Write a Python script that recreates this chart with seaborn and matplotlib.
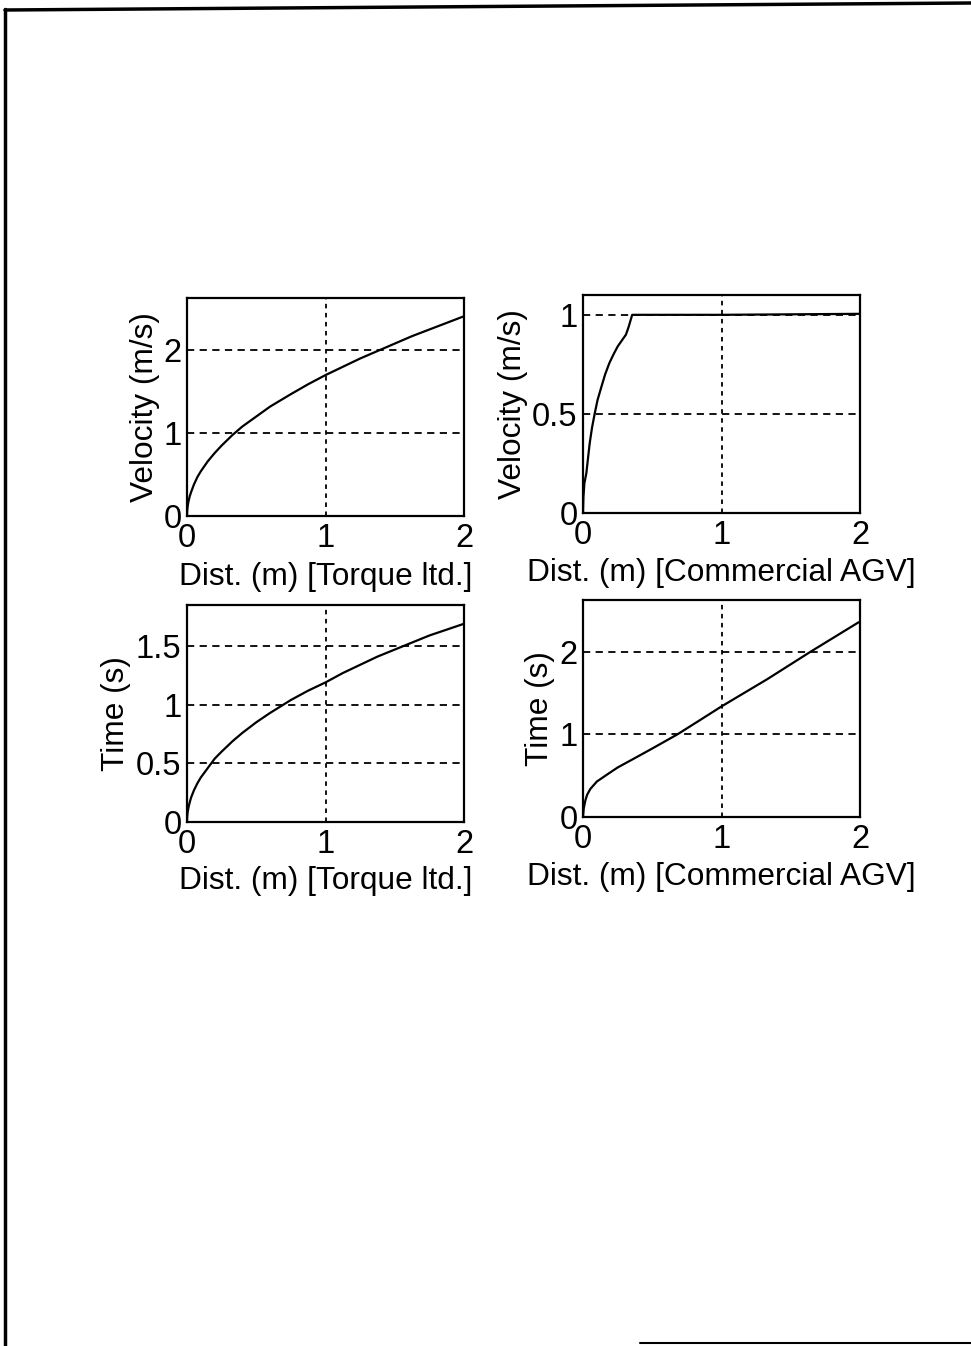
import matplotlib
matplotlib.use("Agg")
import matplotlib.pyplot as plt
from matplotlib.lines import Line2D
import seaborn as sns
import pandas as pd

# ---- data ----
dist_torque = [0, 0.002, 0.005, 0.01, 0.02, 0.03, 0.05, 0.075, 0.1, 0.15, 0.2, 0.25,
               0.33, 0.4, 0.5, 0.6, 0.75, 0.875, 1.0, 1.125, 1.25, 1.375, 1.5, 1.625,
               1.75, 1.875, 2.0]
vel_torque = [0, 0.076, 0.12, 0.17, 0.24, 0.29, 0.38, 0.47, 0.54, 0.66, 0.76, 0.85,
              0.98, 1.08, 1.2, 1.32, 1.47, 1.59, 1.7, 1.8, 1.9, 1.99, 2.08, 2.17,
              2.25, 2.33, 2.41]
time_torque = [0, 0.054, 0.085, 0.12, 0.17, 0.21, 0.27, 0.33, 0.38, 0.46, 0.54, 0.6,
               0.69, 0.76, 0.85, 0.93, 1.04, 1.12, 1.19, 1.27, 1.34, 1.41, 1.47, 1.53,
               1.59, 1.64, 1.69]

dist_agv_v = [0, 0.003, 0.01, 0.024, 0.048, 0.065, 0.084, 0.105, 0.13, 0.16, 0.19,
              0.22, 0.25, 0.28, 0.31, 0.33, 0.355, 1.0, 2.0]
vel_agv = [0, 0.08, 0.15, 0.2, 0.35, 0.43, 0.5, 0.57, 0.63, 0.7, 0.756,
           0.8, 0.84, 0.87, 0.9, 0.94, 1.0, 1.0, 1.005]

dist_agv_t = [0, 0.005, 0.017, 0.03, 0.053, 0.1, 0.17, 0.25, 0.37, 0.5, 0.68, 0.85,
              1.0, 1.33, 1.64, 1.99]
time_agv = [0, 0.1, 0.2, 0.27, 0.34, 0.43, 0.51, 0.6, 0.71, 0.83, 1.0, 1.18,
            1.34, 1.67, 2.0, 2.36]

x_ticks = [0, 1, 2]
x_ticklabels = ["0", "1", "2"]

sns.set_style("white")
plt.rcParams['font.family'] = ['Liberation Sans', 'DejaVu Sans']
plt.rcParams['text.color'] = 'black'
plt.rcParams['axes.labelcolor'] = 'black'

W, H = 971, 1346
fig = plt.figure(figsize=(W / 100, H / 100), dpi=100)
fig.patch.set_facecolor("white")

def rect(x0, x1, y0, y1):
    return [x0 / W, 1 - y1 / H, (x1 - x0) / W, (y1 - y0) / H]

panels = [
    dict(r=rect(187, 464, 298, 516), x=dist_torque, y=vel_torque, ylim=2.63,
         yt=[0, 1, 2], ytl=["0", "1", "2"], ylab="Velocity (m/s)",
         xlab="Dist. (m) [Torque ltd.]", ylc=-0.097, xlc=-0.21),
    dict(r=rect(583, 860, 295, 513), x=dist_agv_v, y=vel_agv, ylim=1.1,
         yt=[0, 0.5, 1], ytl=["0", "0.5", "1"], ylab="Velocity (m/s)",
         xlab="Dist. (m) [Commercial AGV]", ylc=-0.199, xlc=-0.206),
    dict(r=rect(187, 464, 605, 822), x=dist_torque, y=time_torque, ylim=1.85,
         yt=[0, 0.5, 1, 1.5], ytl=["0", "0.5", "1", "1.5"], ylab="Time (s)",
         xlab="Dist. (m) [Torque ltd.]", ylc=-0.202, xlc=-0.203),
    dict(r=rect(583, 860, 600, 817), x=dist_agv_t, y=time_agv, ylim=2.63,
         yt=[0, 1, 2], ytl=["0", "1", "2"], ylab="Time (s)",
         xlab="Dist. (m) [Commercial AGV]", ylc=-0.101, xlc=-0.207),
]

fs_lab = 22.8
fs_tick = 23.5
for p in panels:
    ax = fig.add_axes(p["r"])
    df = pd.DataFrame({"d": p["x"], "v": p["y"]})
    sns.lineplot(data=df, x="d", y="v", ax=ax, color="black", linewidth=1.6,
                 estimator=None, sort=False)
    ax.set_xlim(0, 2)
    ax.set_ylim(0, p["ylim"])
    ax.set_xticks(x_ticks)
    ax.set_xticklabels(x_ticklabels)
    ax.set_yticks(p["yt"])
    ax.set_yticklabels(p["ytl"])
    ax.tick_params(axis="both", length=0, labelsize=fs_tick, colors="black",
                   labelcolor="black")
    ax.tick_params(axis="x", pad=5)
    ax.tick_params(axis="y", pad=4)
    for t in p["yt"][1:]:
        if t < p["ylim"]:
            ax.axhline(t, color="black", lw=1.3, ls=(0, (4, 3)), zorder=1)
    ax.axvline(1, color="black", lw=1.3, ls=(0, (2.5, 2.5)), zorder=1)
    for s in ax.spines.values():
        s.set_visible(True)
        s.set_color("black")
        s.set_linewidth(1.6)
    ax.set_ylabel(p["ylab"], fontsize=fs_lab, color="black")
    ax.set_xlabel(p["xlab"], fontsize=fs_lab, color="black")
    ax.yaxis.set_label_coords(p["ylc"], 0.5)
    ax.xaxis.set_label_coords(0.5, p["xlc"])

# scanned page border
fig.add_artist(Line2D([5 / W, 5 / W], [1 - 9 / H, 0], transform=fig.transFigure,
                      color="black", lw=2.5))
fig.add_artist(Line2D([5 / W, 1.0], [1 - 10 / H, 1 - 3 / H], transform=fig.transFigure,
                      color="black", lw=2.5))
fig.add_artist(Line2D([640 / W, 1.0], [1 - 1343 / H, 1 - 1343 / H], transform=fig.transFigure,
                      color="black", lw=1.5))

fig.savefig("out.png", dpi=100, facecolor="white")
